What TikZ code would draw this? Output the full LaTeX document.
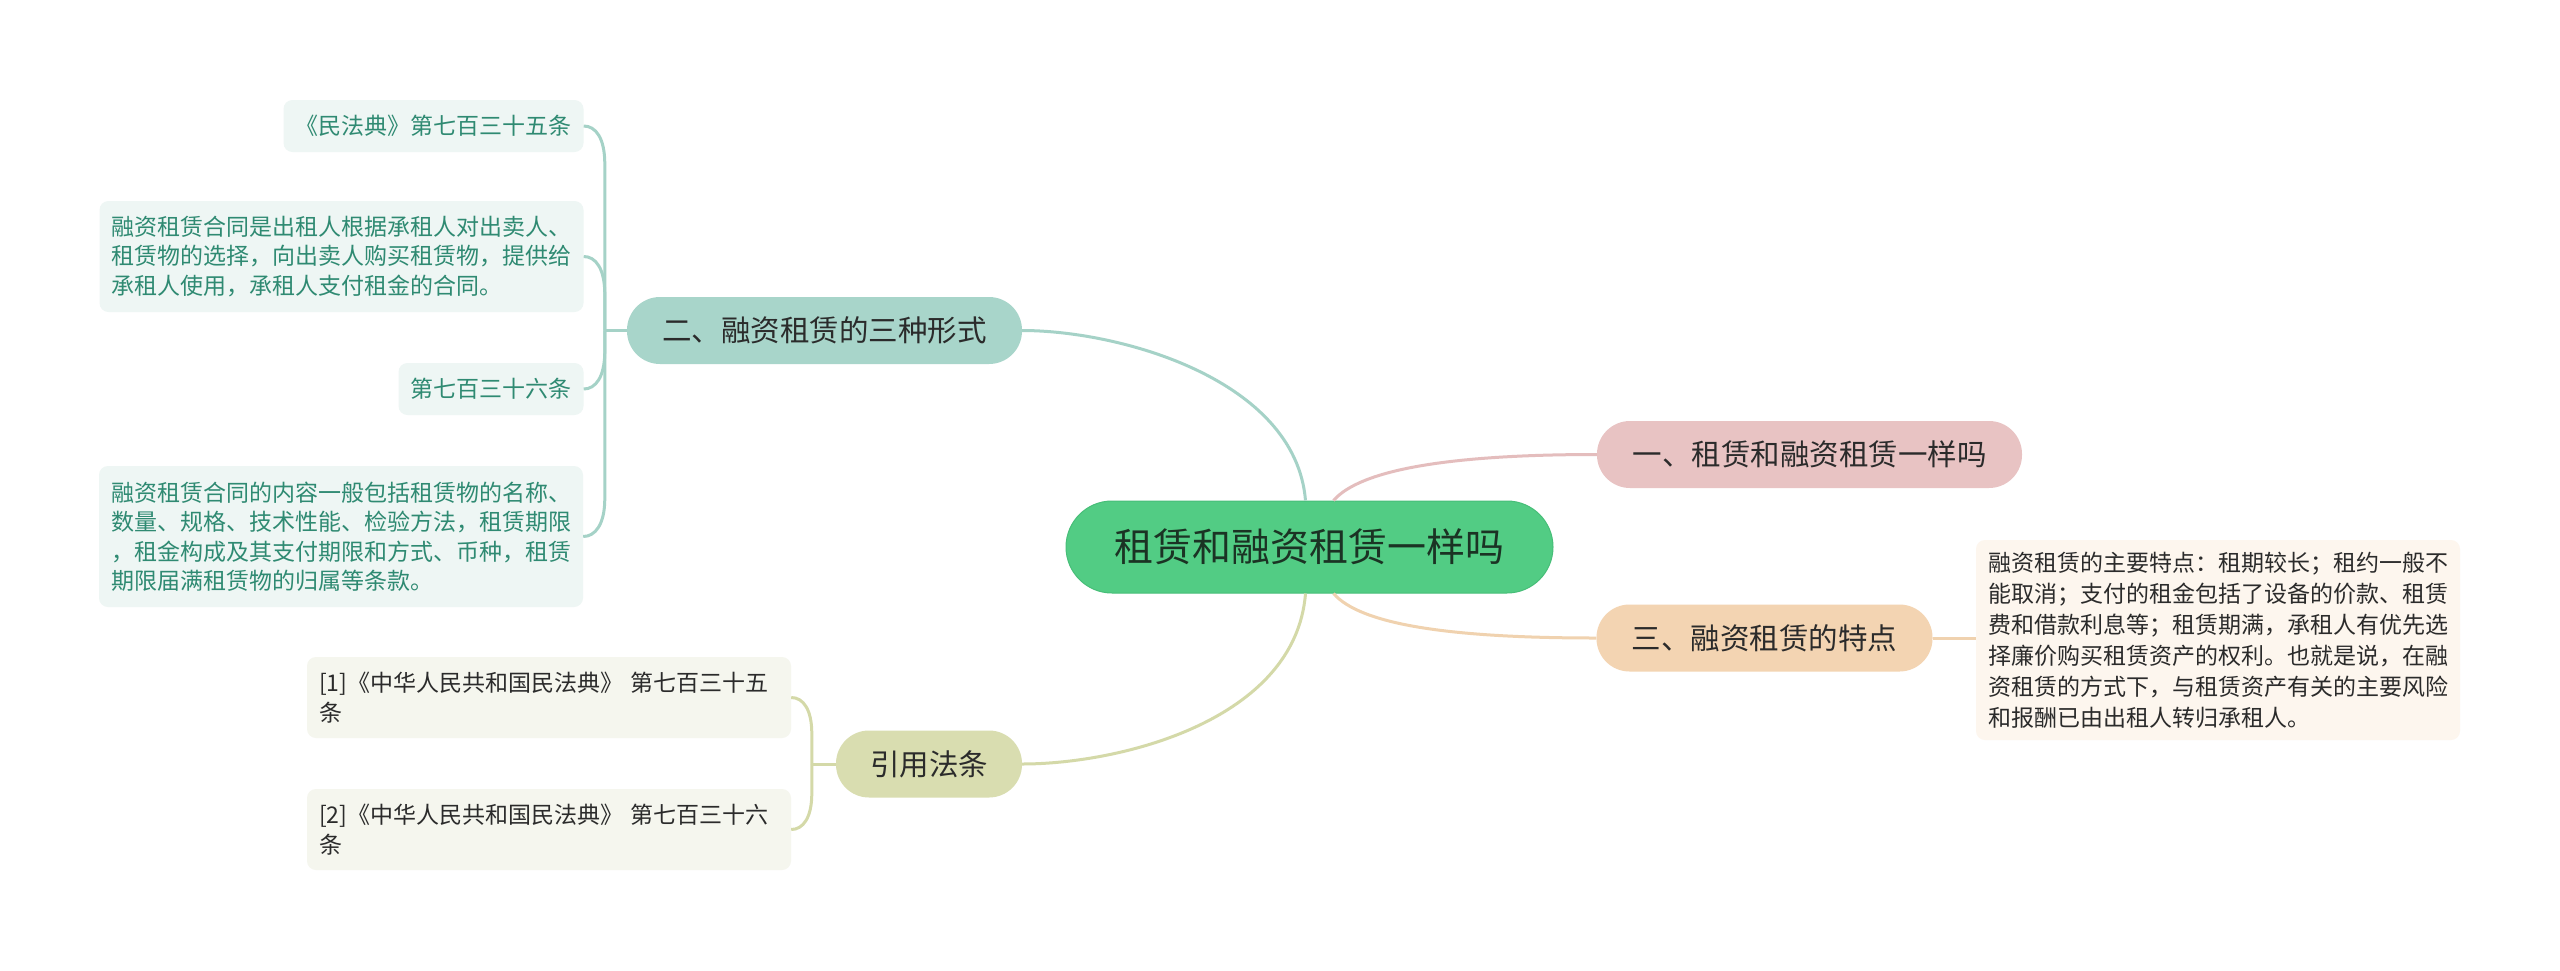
\documentclass[tikz,border=0pt]{standalone}
\usepackage{fontspec}
\usetikzlibrary{calc}
\setmainfont{Noto Sans CJK SC}
\definecolor{cengreen}{HTML}{52CC84}
\definecolor{cenedge}{HTML}{47BE78}
\definecolor{centext}{HTML}{1B3324}
\definecolor{pinkfill}{HTML}{E8C3C3}
\definecolor{pinkline}{HTML}{E4BDBD}
\definecolor{orangefill}{HTML}{F3D4B2}
\definecolor{orangeline}{HTML}{F0D2AF}
\definecolor{tealfill}{HTML}{A8D5CA}
\definecolor{tealline}{HTML}{A5D2C7}
\definecolor{olivefill}{HTML}{D9DDB0}
\definecolor{oliveline}{HTML}{D4D9A8}
\definecolor{tealleaf}{HTML}{EEF6F4}
\definecolor{tealtext}{HTML}{2F8A72}
\definecolor{oliveleaf}{HTML}{F5F6EE}
\definecolor{orangeleaf}{HTML}{FDF6EE}
\definecolor{darktext}{HTML}{2B2B2B}
\tikzset{
  topic/.style={rounded corners=46pt, fill=cengreen, draw=cenedge, line width=1pt,
    inner sep=0pt, minimum width=487pt, minimum height=92pt, text=centext,
    font=\fontsize{39}{39}\selectfont},
  branch/.style={rounded corners=33pt, inner sep=0pt, minimum height=67pt,
    text=darktext, font=\fontsize{29.5}{30}\selectfont},
  leaf/.style={rounded corners=9pt, inner xsep=12pt, inner ysep=0pt, align=left,
    font=\fontsize{23}{29.5}\selectfont},
  link/.style={line width=3pt},
}
\begin{document}
\begin{tikzpicture}[x=1pt, y=-1pt]
  \useasboundingbox[fill=white] (0,0) rectangle (2560,970);
  % 中心主题
  \node[topic] (cen) at (1309.5,547) {租赁和融资租赁一样吗};
  % 分支
  \node[branch, fill=pinkfill, minimum width=425pt] (b1) at (1809.5,454.5) {一、租赁和融资租赁一样吗};
  \node[branch, fill=tealfill, minimum width=395pt] (b2) at (824.5,330.5) {二、融资租赁的三种形式};
  \node[branch, fill=orangefill, minimum width=336pt] (b3) at (1764.5,638) {三、融资租赁的特点};
  \node[branch, fill=olivefill, minimum width=186pt] (b4) at (929,764) {引用法条};
  % 二 的子节点
  \node[leaf, fill=tealleaf, text=tealtext, minimum height=52pt] (l1) at (433.5,126) {《民法典》第七百三十五条};
  \node[leaf, fill=tealleaf, text=tealtext, text width=460pt, minimum height=111pt] (l2) at (341.5,256.5)
    {融资租赁合同是出租人根据承租人对出卖人、\\租赁物的选择，向出卖人购买租赁物，提供给\\承租人使用，承租人支付租金的合同。};
  \node[leaf, fill=tealleaf, text=tealtext, minimum height=52pt] (l3) at (491,389) {第七百三十六条};
  \node[leaf, fill=tealleaf, text=tealtext, text width=460pt, minimum height=141pt] (l4) at (341,536.5)
    {融资租赁合同的内容一般包括租赁物的名称、\\数量、规格、技术性能、检验方法，租赁期限\\，租金构成及其支付期限和方式、币种，租赁\\期限届满租赁物的归属等条款。};
  % 三 的子节点
  \node[leaf, fill=orangeleaf, text=darktext, text width=460pt, minimum height=200pt,
    font=\fontsize{23}{31}\selectfont] (d1) at (2218,640)
    {融资租赁的主要特点：租期较长；租约一般不\\能取消；支付的租金包括了设备的价款、租赁\\费和借款利息等；租赁期满，承租人有优先选\\择廉价购买租赁资产的权利。也就是说，在融\\资租赁的方式下，与租赁资产有关的主要风险\\和报酬已由出租人转归承租人。};
  % 引用法条 的子节点
  \node[leaf, fill=oliveleaf, text=darktext, text width=460pt, minimum height=81pt] (r1) at (549,697.5)
    {[1]《中华人民共和国民法典》 第七百三十五\\条};
  \node[leaf, fill=oliveleaf, text=darktext, text width=460pt, minimum height=81pt] (r2) at (549,829.5)
    {[2]《中华人民共和国民法典》 第七百三十六\\条};
  % 中心到分支
  \draw[link, tealline] ([xshift=-4pt]cen.north) .. controls +(-10,-121) and +(98,0) .. (b2.east);
  \draw[link, pinkline] ([xshift=24pt]cen.north) .. controls +(27,-31) and +(-147,0) .. (b1.west);
  \draw[link, orangeline] ([xshift=24pt]cen.south) .. controls +(27,31) and +(-147,0) .. (b3.west);
  \draw[link, oliveline] ([xshift=-4pt]cen.south) .. controls +(-10,127) and +(98,0) .. (b4.east);
  % 分支到子节点
  \coordinate (tr2) at ([xshift=-22pt]b2.west);
  \draw[link, tealline] (b2.west) -- (tr2);
  \foreach \n/\s in {l1/1, l2/1, l3/-1, l4/-1} {
    \coordinate (k) at ($(tr2 |- \n.east)+(0,38*\s)$);
    \draw[link, tealline] (tr2) -- (k) .. controls +(0,-26*\s) and +(12,0) .. (\n.east);
  }
  \coordinate (tr4) at ([xshift=-24pt]b4.west);
  \draw[link, oliveline] (b4.west) -- (tr4);
  \foreach \n/\s in {r1/1, r2/-1} {
    \coordinate (k) at ($(tr4 |- \n.east)+(0,36*\s)$);
    \draw[link, oliveline] (tr4) -- (k) .. controls +(0,-24*\s) and +(12,0) .. (\n.east);
  }
  \draw[link, orangeline] (b3.east) -- (b3.east -| d1.west);
\end{tikzpicture}
\end{document}
